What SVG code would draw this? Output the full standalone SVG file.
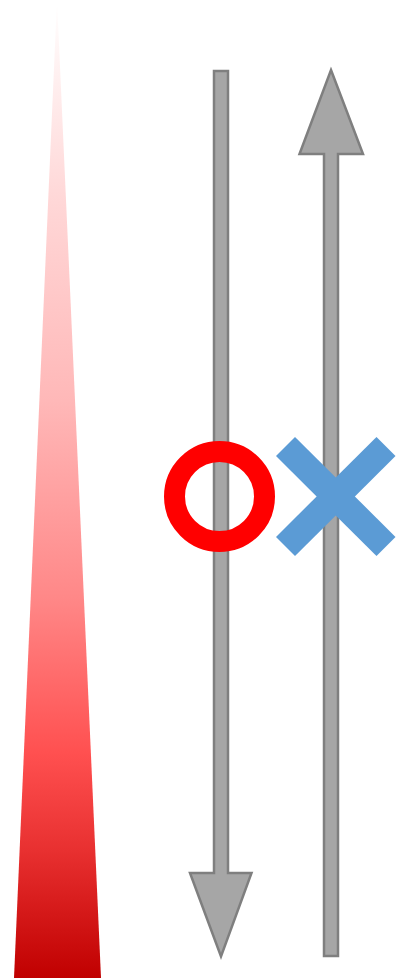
<svg xmlns="http://www.w3.org/2000/svg" width="404" height="978" viewBox="0 0 404 978">
<defs>
<linearGradient id="redGrad" x1="0" y1="0" x2="0" y2="1">
<stop offset="0" stop-color="#FFFFFF"/>
<stop offset="0.2" stop-color="#FFD8D8"/>
<stop offset="0.41" stop-color="#FFB8B8"/>
<stop offset="0.61" stop-color="#FF8888"/>
<stop offset="0.77" stop-color="#FF5050"/>
<stop offset="0.87" stop-color="#E83030"/>
<stop offset="1" stop-color="#C00000"/>
</linearGradient>
<style>
.arrow{fill:#A6A6A6;stroke:#7F7F7F;stroke-width:2.5;stroke-linejoin:miter}
.ring{fill:none;stroke:#FF0000;stroke-width:21}
.cross{stroke:#5B9BD5;stroke-width:27;stroke-linecap:butt}
</style>
</defs>
<g id="wedge">
<polygon points="57,0 101,978 14,978" fill="url(#redGrad)"/>
</g>
<g id="connectors">
<polygon class="arrow" points="214,71 228,71 228,873 251.5,873 221,956.5 190,873 214,873"/>
<polygon class="arrow" points="331,70 363,154 338,154 338,956 324,956 324,154 299.5,154"/>
</g>
<g id="circle-mark">
<circle class="ring" cx="219.5" cy="496.5" r="45"/>
</g>
<g id="cross-mark">
<line class="cross" x1="285.5" y1="446.5" x2="386" y2="546.5"/>
<line class="cross" x1="386" y1="446.5" x2="285.5" y2="546.5"/>
</g>
</svg>
